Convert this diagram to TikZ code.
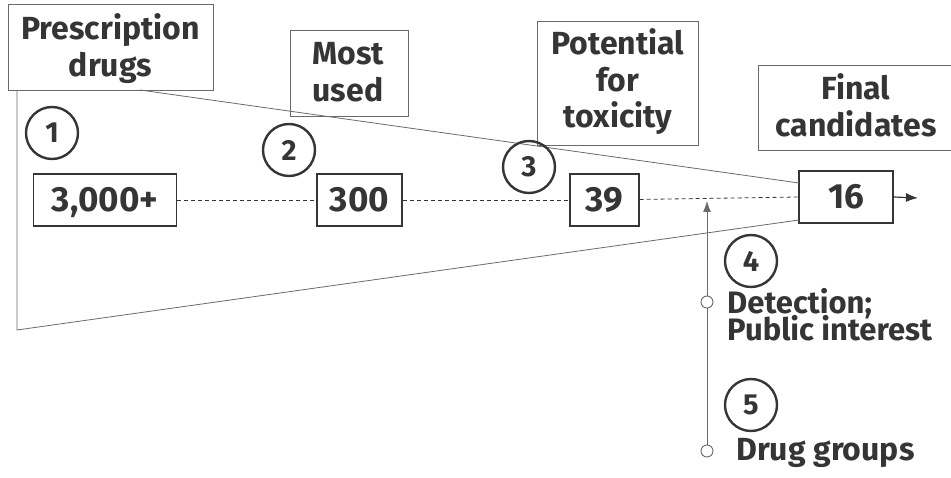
\documentclass[tikz,border=0pt]{standalone}
\usepackage{fontspec}
\setmainfont{Fira Sans}
\usetikzlibrary{arrows.meta}
\definecolor{ink}{HTML}{353535}
\definecolor{thin}{HTML}{6A6A6A}
\begin{document}
\begin{tikzpicture}[x=1pt,y=-1pt,
  lbl/.style={font=\fontsize{32}{37}\selectfont\bfseries, text=ink, inner sep=0pt},
  ctr/.style={lbl, anchor=base},
  lft/.style={lbl, anchor=base west},
  hbox/.style={draw=thin, line width=0.9pt, inner sep=0pt},
  numbox/.style={draw=ink, line width=1.3pt, inner sep=0pt, minimum height=52, font=\fontsize{35}{40}\selectfont\bfseries, text=ink, text height=24pt, text depth=0pt},
  stepnum/.style={circle, draw=ink, line width=2.4pt, minimum size=52, inner sep=0pt, font=\fontsize{29}{30}\selectfont\bfseries, text=ink},
  funnel/.style={draw=thin, line width=0.8pt},
  dotmark/.style={circle, draw=thin, line width=0.9pt, fill=white, minimum size=12, inner sep=0pt}
]
\useasboundingbox (0,0) rectangle (951,478);
% header boxes
\node[hbox, minimum width=205, minimum height=86] (presc) at (110.5,47) {};
\node[ctr] (presc1) at (110.5,40) {Prescription};
\node[ctr] (presc2) at (110.5,77) {drugs};
\node[hbox, minimum width=118, minimum height=86] (most) at (349,73) {};
\node[ctr] (most1) at (348,65) {Most};
\node[ctr] (most2) at (348,102) {used};
\node[hbox, minimum width=161, minimum height=124] (pot) at (617.5,83) {};
\node[ctr] (pot1) at (618,55) {Potential};
\node[ctr] (pot2) at (618,92) {for};
\node[ctr] (pot3) at (618,128) {toxicity};
\node[ctr] (final1) at (856,100) {Final};
\node[ctr] (final2) at (856,137) {candidates};
\draw[draw=thin, line width=0.9pt] (951,65) -- (758,65) -- (758,150) -- (951,150);
% number boxes
\node[numbox, minimum width=143] (n1) at (105,200) {3,000+};
\node[numbox, minimum width=85] (n2) at (359.5,200) {300};
\node[numbox, minimum width=69] (n3) at (604.5,200) {39};
\node[numbox, minimum width=94] (n4) at (846,197) {16};
% funnel
\coordinate (ftl) at (140,90);
\coordinate (fcorner) at (17,90);
\coordinate (fbl) at (17,330);
\coordinate (ftr) at (799,183);
\coordinate (fbr) at (799,220);
\draw[funnel] (ftl) -- (ftr);
\draw[funnel] (fcorner) -- (fbl) -- (fbr);
% dashed chain
\draw[draw=ink, dashed, line width=0.8pt, dash pattern=on 4pt off 3pt] (n1) -- (n2);
\draw[draw=ink, dashed, line width=0.8pt, dash pattern=on 4pt off 3pt] (n2) -- (n3);
\draw[draw=ink, dashed, line width=0.8pt, dash pattern=on 4pt off 3pt] (n3) -- (n4.west);
% output arrow
\coordinate (outend) at (918,198);
\draw[draw=ink, line width=1.2pt, -{Latex[length=12pt,width=9pt]}] (n4.east) -- (outend);
% step circles
\node[stepnum] (c1) at (52,133) {1};
\node[stepnum] (c2) at (289,150) {2};
\node[stepnum] (c3) at (529,167) {3};
\node[stepnum] (c4) at (751,261) {4};
\node[stepnum] (c5) at (751,405) {5};
% vertical feed line
\node[dotmark] (d1) at (707,302) {};
\node[dotmark] (d2) at (707,451) {};
\coordinate (vtop) at (707,201);
\draw[draw=thin, line width=0.9pt] (d2) -- (d1);
\draw[draw=thin, line width=0.9pt, -{Latex[length=11pt,width=8pt]}] (d1) -- (vtop);
% labels
\node[lft, font=\fontsize{31}{36}\selectfont\bfseries, text depth=0pt] (t4a) at (727,314) {Detection;};
\node[lft, font=\fontsize{31}{36}\selectfont\bfseries, text height=22pt] (t4b) at (727,341) {Public interest};
\node[lft] (t5) at (736,460) {Drug groups};
\end{tikzpicture}
\end{document}
